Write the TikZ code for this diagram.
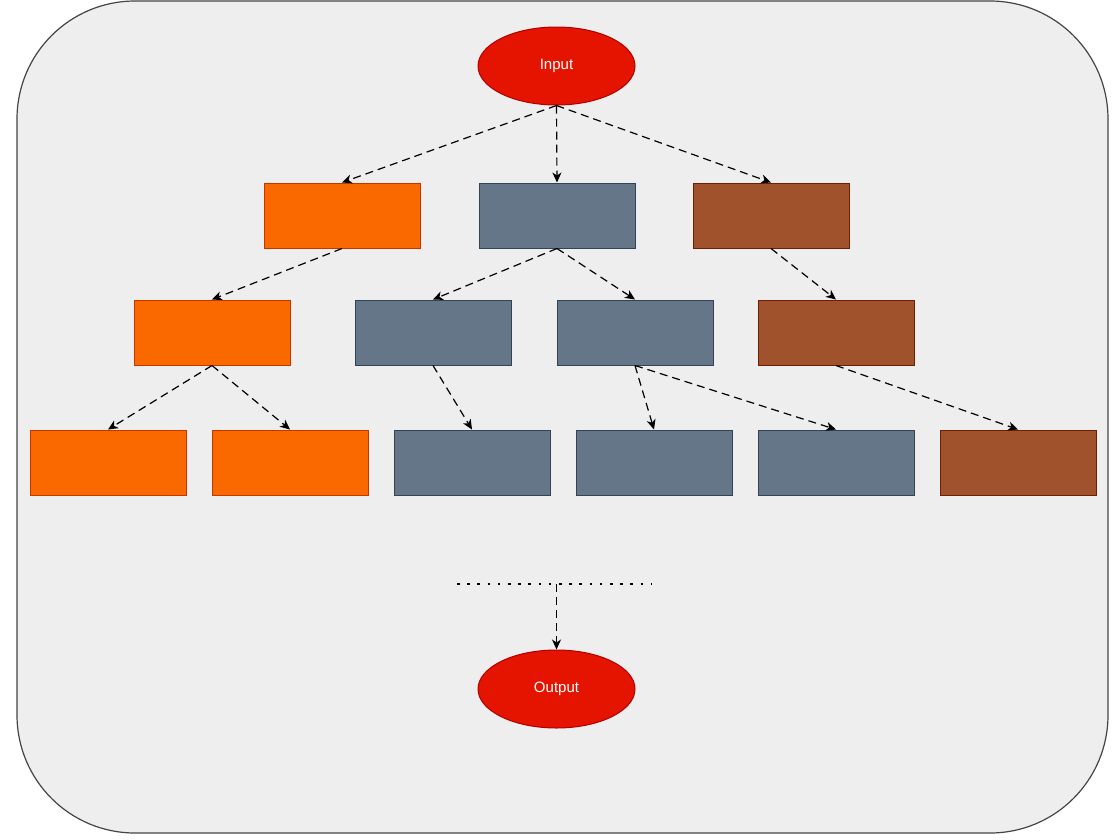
\documentclass[tikz,border=0pt]{standalone}
\usepackage{fontspec}
\setmainfont{Liberation Sans}
\usetikzlibrary{arrows.meta,shapes.geometric}
\definecolor{bgfill}{HTML}{EEEEEE}
\definecolor{bgline}{HTML}{444444}
\definecolor{redfill}{HTML}{E51400}
\definecolor{redline}{HTML}{B20000}
\definecolor{orfill}{HTML}{FA6800}
\definecolor{orline}{HTML}{C73500}
\definecolor{grfill}{HTML}{647687}
\definecolor{grline}{HTML}{314354}
\definecolor{brfill}{HTML}{A0522D}
\definecolor{brline}{HTML}{6D1F00}
\tikzset{
  box/.style={rectangle, minimum width=156pt, minimum height=65pt, inner sep=0pt, line width=1pt},
  orbox/.style={box, fill=orfill, draw=orline},
  grbox/.style={box, fill=grfill, draw=grline},
  brbox/.style={box, fill=brfill, draw=brline},
  term/.style={ellipse, minimum width=157pt, minimum height=78pt, inner sep=0pt, fill=redfill, draw=redline, line width=1pt, text=white, font=\fontsize{15}{18}\selectfont},
  conn/.style={line width=1.2pt, dash pattern=on 8pt off 5pt, -{Stealth[length=10pt,width=9pt,inset=3pt]}},
}
\begin{document}
\begin{tikzpicture}[x=1pt,y=-1pt]
\useasboundingbox (0,0) rectangle (1114,839);
\draw[fill=bgfill, draw=bgline, line width=1.2pt, rounded corners=118pt] (17,1) rectangle (1108,833);
% terminals
\node[term] (in) at (556.5,66) {Input};
\node[term] (out) at (556.5,689) {Output};
% row 1
\node[orbox] (o1) at (342,215.5) {};
\node[grbox] (g1) at (557,215.5) {};
\node[brbox] (b1) at (771,215.5) {};
% row 2
\node[orbox] (o2) at (212,332.5) {};
\node[grbox] (g2) at (433,332.5) {};
\node[grbox] (g3) at (635,332.5) {};
\node[brbox] (b2) at (836,332.5) {};
% row 3
\node[orbox] (o3) at (108,462.5) {};
\node[orbox] (o4) at (290,462.5) {};
\node[grbox] (g4) at (472,462.5) {};
\node[grbox] (g5) at (654,462.5) {};
\node[grbox] (g6) at (836,462.5) {};
\node[brbox] (b3) at (1018,462.5) {};
% dotted line
\coordinate (dl) at (457,584);
\coordinate (dr) at (651,584);
\coordinate (dm) at (556.5,584);
\draw[line width=2.5pt, dash pattern=on 2.5pt off 7.7pt] (dl) -- (dr);
% connectors
\draw[conn] (in.south) -- (o1.north);
\draw[conn] (in.south) -- (g1.north);
\draw[conn] (in.south) -- (b1.north);
\draw[conn] (o1.south) -- (o2.north);
\draw[conn] (g1.south) -- (g2.north);
\draw[conn] (g1.south) -- (g3.north);
\draw[conn] (b1.south) -- (b2.north);
\draw[conn] (o2.south) -- (o3.north);
\draw[conn] (o2.south) -- (o4.north);
\draw[conn] (g2.south) -- (g4.north);
\draw[conn] (g3.south) -- (g5.north);
\draw[conn] (g3.south) -- (g6.north);
\draw[conn] (b2.south) -- (b3.north);
\draw[conn] (dm) -- (out.north);
\end{tikzpicture}
\end{document}
